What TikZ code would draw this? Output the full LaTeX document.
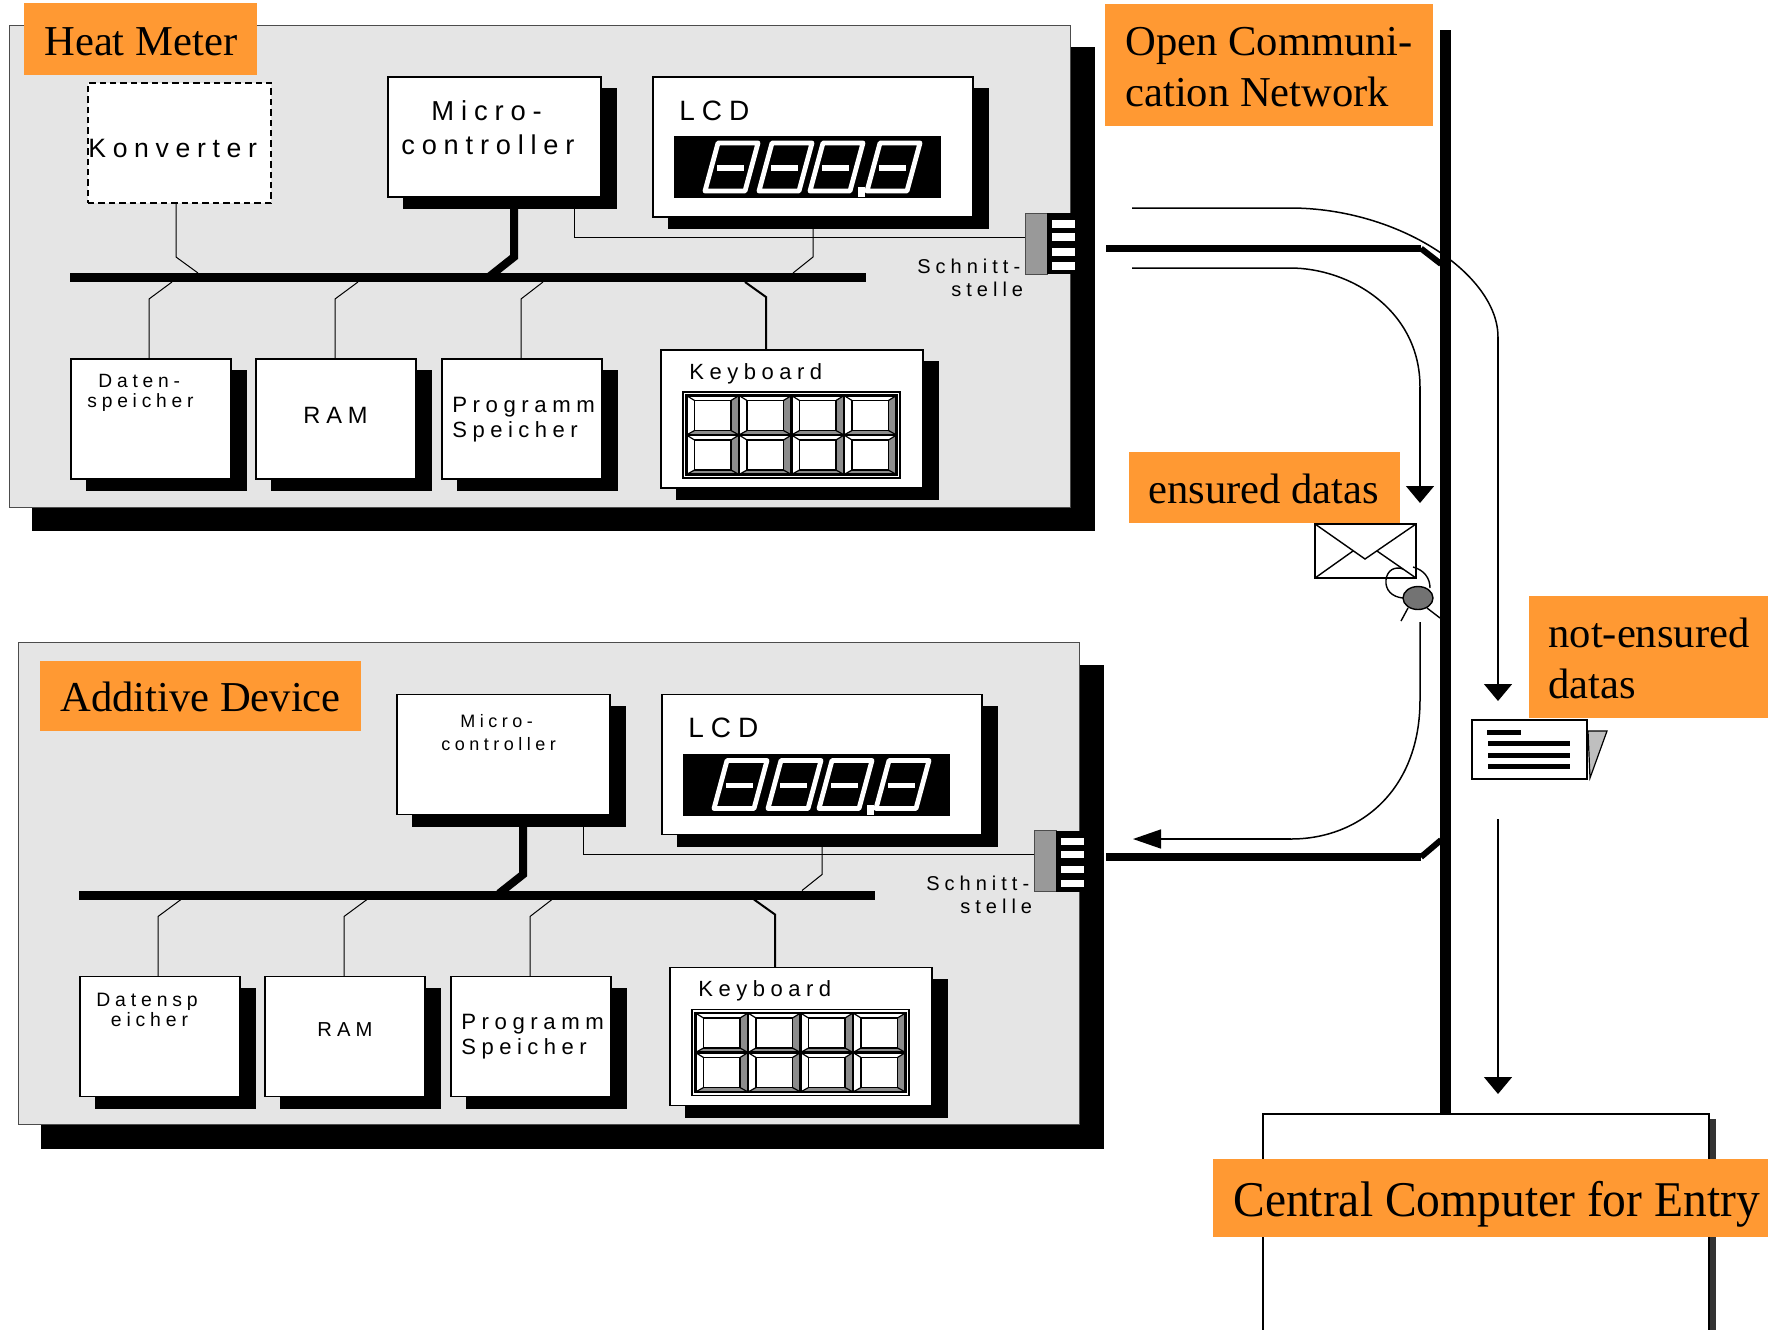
\documentclass[tikz,border=0pt]{standalone}
\usepackage{fontspec}
\setmainfont{Liberation Serif}
\newfontfamily\lsp[LetterSpace=25]{Liberation Sans}
\newfontfamily\narrowserif[FakeStretch=0.95]{Liberation Serif}
\usetikzlibrary{fit,arrows.meta,shapes.geometric}
\definecolor{tag}{HTML}{FF9933}
\definecolor{panelgray}{HTML}{E5E5E5}
\tikzset{
  boxw/.style={draw=black,line width=0.55pt,fill=white,inner sep=0pt,outer sep=0pt},
  panelbox/.style={draw=black!70,line width=0.4pt,fill=panelgray,inner sep=0pt,outer sep=0pt},
  tagbox/.style={fill=tag,inner sep=0pt,outer sep=0pt},
  thinwire/.style={draw=black,line width=0.5pt},
  midwire/.style={draw=black,line width=1pt},
  thickwire/.style={draw=black,line width=4pt},
  netline/.style={draw=black,line width=3.6pt},
  flow/.style={draw=black,line width=0.75pt},
  flowarrow/.style={flow,-{Triangle[length=8.5pt,width=14pt]}},
  flowarrowh/.style={flow,-{Triangle[length=14pt,width=9.5pt]}},
  tagtext/.style={anchor=base west,inner sep=0pt,font=\fontsize{21.3}{21.3}\selectfont},
  seg/.style={draw=white,line width=2.4pt,line join=round},
}
% spaced sans label: name, x, y (base west), size, text
\newcommand{\lab}[5]{\node[anchor=base west,inner sep=0pt,font=\lsp\fontsize{#4}{#4}\selectfont] (#1) at (#2,#3) {#5};}
% white box with shadow: name x1 y1 x2 y2
\newcommand{\shbox}[5]{%
  \pgfmathsetmacro{\sa}{#2+15}\pgfmathsetmacro{\sb}{#3+11}\pgfmathsetmacro{\sc}{#4+16}\pgfmathsetmacro{\sd}{#5+12}
  \fill[black] (\sa,\sb) rectangle (\sc,\sd);
  \node[boxw,fit={(#2,#3) (#4,#5)}] (#1) {};}
\newcommand{\heatpanel}[1]{%
  \fill[black] (32,47) rectangle (1095,531);
  \node[panelbox,fit={(9,25) (1070,507)}] (#1-panel) {};
  % connectors
  \coordinate (#1-busL) at (70,277.5);
  \coordinate (#1-busR) at (866,277.5);
  \coordinate (#1-mA) at (574,197);
  \coordinate (#1-mB) at (574,237);
  \coordinate (#1-lA) at (813,217);
  \coordinate (#1-lB) at (813,257);
  \coordinate (#1-lC) at (793,273);
  \coordinate (#1-tA) at (514,205);
  \coordinate (#1-tB) at (514,257);
  \coordinate (#1-tC) at (490,276);
  \draw[thinwire] (#1-mA) -- (#1-mB) -- (1025,237);
  \draw[thinwire] (#1-lA) -- (#1-lB) -- (#1-lC);
  \draw[thickwire] (#1-tA) -- (#1-tB) -- (#1-tC);
  \draw[draw=black,line width=4.5pt] (#1-busL) -- (#1-busR);
  \shbox{#1-micro}{388}{77}{601}{197}
  \shbox{#1-lcd}{653}{77}{973}{217}
  \fill[black] (674,136) rectangle (941,198);
  \foreach \dx in {705,759,810,867}{
    \draw[seg] (\dx,191) -- (\dx+13,143) -- (\dx+53,143) -- (\dx+40,191) -- cycle;
    \draw[draw=white,line width=2.6pt] (\dx+12,168) -- (\dx+39,168);
  }
  \fill[white] (858,187) rectangle (865,197);
  \shbox{#1-dat}{71}{359}{231}{479}
  \shbox{#1-ram}{256}{359}{416}{479}
  \shbox{#1-prg}{442}{359}{602}{479}
  \shbox{#1-key}{661}{350}{923}{488}
  \draw[thinwire] (#1-dat.north -| 149,0) -- (149,299) -- (172,282);
  \draw[thinwire] (#1-ram.north -| 335,0) -- (335,299) -- (358,282);
  \draw[thinwire] (#1-prg.north -| 521,0) -- (521,299) -- (543,282);
  \draw[midwire] (#1-key.north -| 766,0) -- (766,297) -- (745,282);
  % keypad
  \draw[black,line width=0.6pt,fill=white] (683,392) rectangle (900,478);
  \foreach \kx in {0,1,2,3}{\foreach \ky in {0,1}{
    \begin{scope}[shift={(686.5+52.5*\kx,395.5+39.5*\ky)}]
      \fill[white] (0,0) rectangle (52.5,39.5);
      \fill[black!45] (52.5,0) -- (44.5,5) -- (44.5,35) -- (52.5,39.5) -- cycle;
      \fill[black!45] (0,39.5) -- (8,35) -- (44.5,35) -- (52.5,39.5) -- cycle;
      \draw[black,line width=0.6pt] (0,0) -- (8,5) (52.5,0) -- (44.5,5) (0,39.5) -- (8,35) (52.5,39.5) -- (44.5,35);
      \draw[black,line width=0.8pt] (8,5) rectangle (44.5,35);
      \draw[black,line width=1.1pt] (0,0) rectangle (52.5,39.5);
    \end{scope}
  }}
  % interface
  \node[draw=black!70,line width=0.3pt,fill=black!40,inner sep=0pt,outer sep=0pt,fit={(1025,213) (1047,274)}] (#1-if) {};
  \fill[black] (1047,213) rectangle (1075,274);
  \foreach \yy in {220,233,248,262}{\fill[white] (1052,\yy) rectangle (1075,\yy+7.5);}
  \lab{#1-tlcd}{679}{120}{14}{LCD}
  \lab{#1-tkey}{689}{379}{11}{Keyboard}
  \lab{#1-tpa}{452}{412}{11.1}{Programm}
  \lab{#1-tpb}{452}{437}{11}{Speicher}
  \lab{#1-tsa}{917}{273}{10}{Schnitt-}
  \lab{#1-tsb}{951}{296}{10}{stelle}
}
\begin{document}
\begin{tikzpicture}[x=0.5pt,y=-0.5pt]
\useasboundingbox (0,0) rectangle (1768,1329);

% flows and network (behind the labels)
\coordinate (fa0) at (1132,208);
\coordinate (fa1) at (1290,208);
\coordinate (fa2) at (1498,337);
\coordinate (fa3) at (1498,701);
\coordinate (fb0) at (1132,268);
\coordinate (fb1) at (1290,268);
\coordinate (fb2) at (1420,387);
\coordinate (fb3) at (1420,503);
\coordinate (fc0) at (1420,622);
\coordinate (fc1) at (1420,700);
\coordinate (fc2) at (1291,839);
\coordinate (fc3) at (1133,839);
\coordinate (fd0) at (1498,819);
\coordinate (fd1) at (1498,1094);
\coordinate (ntop) at (1445.5,30);
\coordinate (tapA0) at (1106,248.5);
\coordinate (tapA1) at (1421,248.5);
\coordinate (tapA2) at (1441,264);
\coordinate (tapB0) at (1106,857);
\coordinate (tapB1) at (1421,857);
\coordinate (tapB2) at (1441,840);

\draw[flow] (fa0) -- (fa1) .. controls (1400,208) and (1498,275) .. (fa2);
\draw[flowarrow] (fa2) -- (fa3);
\draw[flow] (fb0) -- (fb1) .. controls (1350,268) and (1420,310) .. (fb2);
\draw[flowarrow] (fb2) -- (fb3);
\draw[flow] (fc0) -- (fc1) .. controls (1420,790) and (1360,839) .. (fc2);
\draw[flowarrowh] (fc2) -- (fc3);
\draw[flowarrow] (fd0) -- (fd1);

% central computer
\fill[black!80] (1700,1119) rectangle (1716,1340);
\node[boxw,line width=0.9pt,fit={(1263,1114) (1709,1340)}] (central) {};
\draw[netline,line width=5.5pt] (ntop) -- (central.north -| ntop);
\draw[netline] (tapA0) -- (tapA1);
\draw[netline,line width=3pt] (tapA1) -- (tapA2);
\draw[netline] (tapB0) -- (tapB1);
\draw[netline,line width=3pt] (tapB1) -- (tapB2);

% panel 1
\heatpanel{a}
\node[draw=black,dash pattern=on 3.2pt off 2pt,line width=1pt,fill=white,inner sep=0pt,outer sep=0pt,fit={(88,83) (271,203)}] (a-konv) {};
\draw[thinwire] (a-konv.south -| 176,0) -- (176,257) -- (198,273);
\lab{a-tko}{88}{157}{13.3}{Konverter}
\lab{a-tma}{431}{120}{13.7}{Micro-}
\lab{a-tmb}{401}{154}{13.6}{controller}
\lab{a-tda}{98}{387}{9.6}{Daten-}
\lab{a-tdb}{87}{407}{9.6}{speicher}
\lab{a-tra}{303}{423}{11.8}{RAM}

% panel 2
\begin{scope}[shift={(9,617.5)}]
\heatpanel{b}
\end{scope}
\lab{b-tma}{460}{727}{9}{Micro-}
\lab{b-tmb}{441}{750}{9}{controller}
\lab{b-tda}{96}{1006}{9.7}{Datensp}
\lab{b-tdb}{110.5}{1026}{9.7}{eicher}
\lab{b-tra}{317}{1036}{10.1}{RAM}

% envelope and seal
\node[draw=black,line width=0.8pt,fill=white,inner sep=0pt,outer sep=0pt,fit={(1315,524) (1416,578)}] (env) {};
\draw[black,line width=0.7pt] (env.north west) -- (1365,559) -- (env.north east) (env.south west) -- (1353,551) (env.south east) -- (1377,551);
\node[draw=black,line width=0.7pt,fill=black!55,ellipse,inner sep=0pt,outer sep=0pt,minimum width=15pt,minimum height=11.5pt] (seal) at (1418,598) {};
\draw[black,line width=0.7pt] (seal.west) .. controls (1392,597) and (1385,590) .. (1386,580) .. controls (1387,570) and (1395,566) .. (1403,569);
\draw[black,line width=0.7pt] (1413,567) .. controls (1424,570) and (1430,578) .. (1430,588);
\draw[black,line width=0.7pt] (1408,608) -- (1401,621) (1427,608) -- (1440,618);

% document
\filldraw[draw=black,line width=0.6pt,fill=black!25] (1588,731) -- (1607,731) -- (1590,778) -- cycle;
\node[draw=black,line width=0.8pt,fill=white,inner sep=0pt,outer sep=0pt,fit={(1472,720) (1587,779)}] (doc) {};
\fill[black] (1487,730) rectangle (1521,735);
\foreach \yy in {741,753,764}{\fill[black] (1488,\yy) rectangle (1570,\yy+5);}

% labels
\node[tagbox,fit={(24,3) (257,75)}] (t1) {};
\node[tagtext] (t1t) at (44,55) {Heat Meter};
\node[tagbox,fit={(1105,3.5) (1433,125.5)}] (t2) {};
\node[tagtext] (t2a) at (1125,55) {Open Communi-};
\node[tagtext] (t2b) at (1125,106) {cation Network};
\node[tagbox,fit={(1129,452) (1400,523)}] (t3) {};
\node[tagtext] (t3t) at (1148,503) {ensured datas};
\node[tagbox,fit={(1529,596) (1768,718)}] (t4) {};
\node[tagtext] (t4a) at (1548,647) {not-ensured};
\node[tagtext] (t4b) at (1548,698) {datas};
\node[tagbox,fit={(40,661) (361,731)}] (t5) {};
\node[tagtext] (t5t) at (60,711.5) {Additive Device};
\node[tagbox,fit={(1213,1159) (1768,1237)}] (t6) {};
\node[tagtext,font=\narrowserif\fontsize{25}{25}\selectfont] (t6t) at (1233,1216) {Central Computer for Entry};
\end{tikzpicture}
\end{document}
